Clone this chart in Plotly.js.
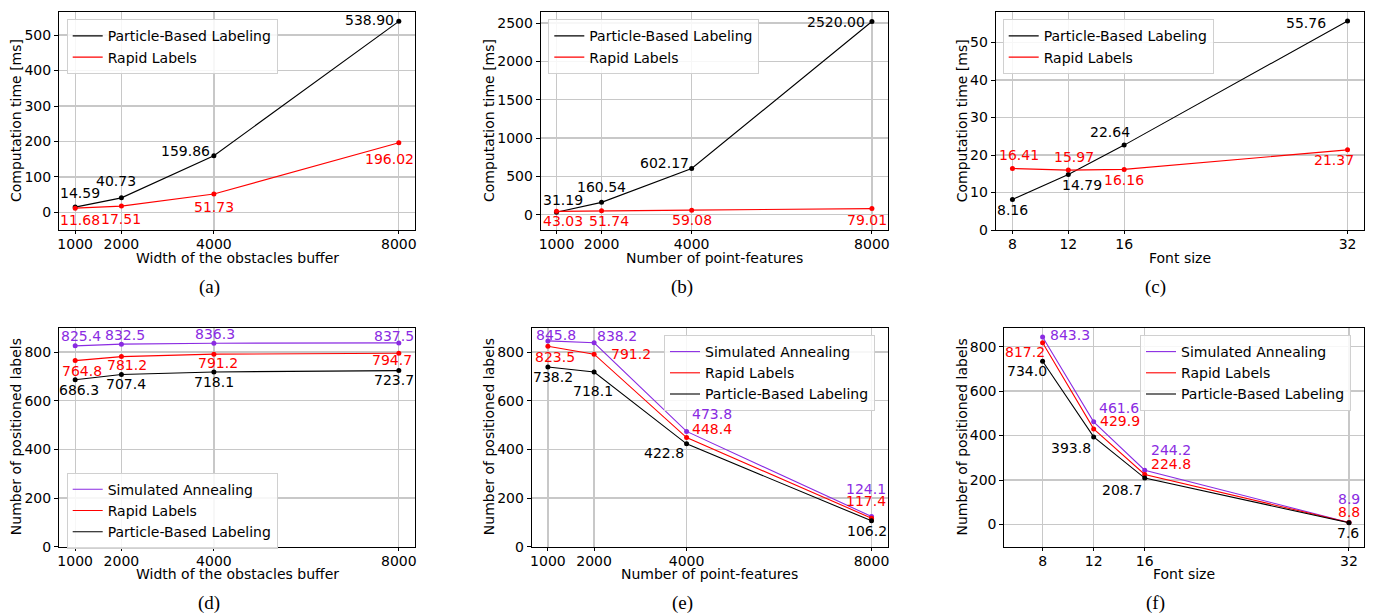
<!DOCTYPE html>
<html>
<head>
<meta charset="utf-8">
<script src="https://cdn.plot.ly/plotly-3.0.1.min.js"></script>
<style>html,body{margin:0;padding:0;background:#fff;}#chart{width:1375px;height:614px;}</style>
</head>
<body>
<div id="chart"></div>
<script>
// ---------------- DATA ----------------
const bufferWidth = [1000, 2000, 4000, 8000];
const pointFeatures = [1000, 2000, 4000, 8000];
const fontSizes = [8, 12, 16, 32];

// (a) computation time vs. buffer width
const timeBufferPBL = [14.59, 40.73, 159.86, 538.90];
const timeBufferRL  = [11.68, 17.51, 51.73, 196.02];
// (b) computation time vs. number of point-features
const timeFeaturesPBL = [31.19, 160.54, 602.17, 2520.00];
const timeFeaturesRL  = [43.03, 51.74, 59.08, 79.01];
// (c) computation time vs. font size
const timeFontPBL = [8.16, 14.79, 22.64, 55.76];
const timeFontRL  = [16.41, 15.97, 16.16, 21.37];
// (d) positioned labels vs. buffer width
const posBufferSA  = [825.4, 832.5, 836.3, 837.5];
const posBufferRL  = [764.8, 781.2, 791.2, 794.7];
const posBufferPBL = [686.3, 707.4, 718.1, 723.7];
// (e) positioned labels vs. number of point-features
const posFeaturesSA  = [845.8, 838.2, 473.8, 124.1];
const posFeaturesRL  = [823.5, 791.2, 448.4, 117.4];
const posFeaturesPBL = [738.2, 718.1, 422.8, 106.2];
// (f) positioned labels vs. font size
const posFontSA  = [843.3, 461.6, 244.2, 8.9];
const posFontRL  = [817.2, 429.9, 224.8, 8.8];
const posFontPBL = [734.0, 393.8, 208.7, 7.6];

const nameSA = 'Simulated Annealing';
const nameRL = 'Rapid Labels';
const namePBL = 'Particle-Based Labeling';
const captions = ['(a)', '(b)', '(c)', '(d)', '(e)', '(f)'];
const xTitles = ['Width of the obstacles buffer', 'Number of point-features', 'Font size',
                 'Width of the obstacles buffer', 'Number of point-features', 'Font size'];
const yTitles = ['Computation time [ms]', 'Computation time [ms]', 'Computation time [ms]',
                 'Number of positioned labels', 'Number of positioned labels', 'Number of positioned labels'];

// ---------------- STYLE ----------------
const FONT = 'DejaVu Sans, sans-serif';
const C_PBL = '#000000', C_RL = '#ff0000', C_SA = '#8A2BE2';

// label offsets [dx, dy] in px (screen, y down) relative to each point
const OFF = {
  aPBL: [[5,-14],[-5,-17],[-28,-5],[-29,-1]],
  aRL:  [[5,12],[0,13],[0,13],[-9,16]],
  bPBL: [[7,-12],[0,-15],[-27,-6],[-36,0]],
  bRL:  [[7,10],[7,10],[0,10],[-5,11]],
  cPBL: [[0,11],[14,10],[-14,-13],[-42,2]],
  cRL:  [[7,-13],[6,-13],[0,11],[-14,10]],
  dSA:  [[6,-10],[4,-9],[1,-9],[-5,-7]],
  dRL:  [[7,10],[6,8],[4,9],[-7,7]],
  dPBL: [[4,10],[5,9],[0,10],[-5,9]],
  eSA:  [[8,-6],[23,-7],[25,-17],[-6,-28]],
  eRL:  [[7,11],[37,0],[25,-9],[-6,-17]],
  ePBL: [[5,10],[-1,19],[-23,9],[-5,10]],
  fSA:  [[27,-2],[25,-14],[26,-20],[0,-23]],
  fRL:  [[-18,9],[26,-8],[26,-10],[0,-11]],
  fPBL: [[-16,10],[-23,11],[-23,12],[-1,10]]
};

const W = 1375, H = 614;
// plot areas in px [left, right, top, bottom]
const boxes = [
  [59, 415, 12, 230], [540.7, 887.7, 12, 230], [995.7, 1364.3, 12, 230],
  [59, 415, 327.7, 546.7], [531.7, 887.7, 327.7, 546.7], [1004.3, 1364.3, 327.7, 546.7]
];
const xRanges = [[650, 8350], [650, 8350], [6.8, 33.2], [650, 8350], [650, 8350], [5, 33.2]];
const yRanges = [[-50, 565.3], [-200, 2644.4], [0, 58.14], [0, 900], [0, 900], [-100, 885.1]];
const yDtick = [100, 500, 10, 200, 200, 200];
const legendPos = [[66.7, 19.3], [548.3, 19.3], [1002.7, 19.3], [66.7, 472.7], [664, 335], [1140, 335]];
const captionPos = [[209, 287], [682, 287], [1155, 287], [209, 603], [682, 603], [1155, 603]];
const yTitleX = [16, 489, 962.3, 16, 489, 962.3];
const xTitleY = [257.7, 257.7, 257.7, 574, 574, 574];

// ---------------- BUILD ----------------
const panels = [
  {x: bufferWidth, series: [[namePBL, timeBufferPBL, C_PBL, OFF.aPBL], [nameRL, timeBufferRL, C_RL, OFF.aRL]], dec: 2},
  {x: pointFeatures, series: [[namePBL, timeFeaturesPBL, C_PBL, OFF.bPBL], [nameRL, timeFeaturesRL, C_RL, OFF.bRL]], dec: 2},
  {x: fontSizes, series: [[namePBL, timeFontPBL, C_PBL, OFF.cPBL], [nameRL, timeFontRL, C_RL, OFF.cRL]], dec: 2},
  {x: bufferWidth, series: [[nameSA, posBufferSA, C_SA, OFF.dSA], [nameRL, posBufferRL, C_RL, OFF.dRL], [namePBL, posBufferPBL, C_PBL, OFF.dPBL]], dec: 1},
  {x: pointFeatures, series: [[nameSA, posFeaturesSA, C_SA, OFF.eSA], [nameRL, posFeaturesRL, C_RL, OFF.eRL], [namePBL, posFeaturesPBL, C_PBL, OFF.ePBL]], dec: 1},
  {x: fontSizes, series: [[nameSA, posFontSA, C_SA, OFF.fSA], [nameRL, posFontRL, C_RL, OFF.fRL], [namePBL, posFontPBL, C_PBL, OFF.fPBL]], dec: 1}
];

const traces = [];
const annotations = [];
const layout = {
  width: W, height: H,
  margin: {l: 0, r: 0, t: 0, b: 0},
  paper_bgcolor: '#fff', plot_bgcolor: '#fff',
  font: {family: FONT, size: 14, color: '#000'},
  showlegend: true,
  annotations: annotations
};

panels.forEach((p, i) => {
  const n = i + 1;
  const xa = n === 1 ? 'x' : 'x' + n;
  const ya = n === 1 ? 'y' : 'y' + n;
  const lg = n === 1 ? 'legend' : 'legend' + n;
  const b = boxes[i];
  layout[n === 1 ? 'xaxis' : 'xaxis' + n] = {
    domain: [b[0] / W, b[1] / W], anchor: ya, range: xRanges[i],
    tickmode: 'array', tickvals: p.x, ticktext: p.x.map(String),
    showgrid: true, gridcolor: '#c8c8c8', gridwidth: 1.3,
    showline: true, linecolor: '#000', linewidth: 1, mirror: true,
    ticks: 'outside', ticklen: 3, tickcolor: '#000', zeroline: false,
    ticklabelstandoff: -2,
    tickfont: {size: 14, family: FONT, color: '#000'}
  };
  layout[n === 1 ? 'yaxis' : 'yaxis' + n] = {
    domain: [1 - b[3] / H, 1 - b[2] / H], anchor: xa, range: yRanges[i],
    dtick: yDtick[i], tick0: 0,
    showgrid: true, gridcolor: '#c8c8c8', gridwidth: 1.3,
    showline: true, linecolor: '#000', linewidth: 1, mirror: true,
    ticks: 'outside', ticklen: 4, tickcolor: '#000', zeroline: false,
    tickfont: {size: 14, family: FONT, color: '#000'}
  };
  // axis titles (placed precisely)
  annotations.push({
    x: ((b[0] + b[1]) / 2) / W, y: 1 - xTitleY[i] / H, xref: 'paper', yref: 'paper',
    text: xTitles[i], showarrow: false, xanchor: 'center', yanchor: 'middle',
    font: {size: 14, family: FONT, color: '#000'}
  });
  annotations.push({
    x: yTitleX[i] / W, y: 1 - ((b[2] + b[3]) / 2) / H, xref: 'paper', yref: 'paper',
    text: yTitles[i], textangle: -90, showarrow: false, xanchor: 'center', yanchor: 'middle',
    font: {size: 14, family: FONT, color: '#000'}
  });
  const lp = legendPos[i];
  layout[lg] = {
    x: lp[0] / W, y: 1 - lp[1] / H, xanchor: 'left', yanchor: 'top', xref: 'paper', yref: 'paper',
    bgcolor: 'rgba(255,255,255,0.85)', bordercolor: '#d0d0d0', borderwidth: 1,
    font: {size: 14, family: FONT, color: '#000'}, traceorder: 'normal', tracegroupgap: 0
  };
  p.series.forEach(s => {
    const [name, ys, color, offs] = s;
    // line (shown in legend)
    traces.push({
      x: p.x, y: ys, name: name, mode: 'lines', xaxis: xa, yaxis: ya, legend: lg,
      line: {color: color, width: 1.1}, hoverinfo: 'x+y+name'
    });
    // point markers
    traces.push({
      x: p.x, y: ys, name: name, mode: 'markers', xaxis: xa, yaxis: ya, showlegend: false,
      marker: {color: color, size: 5}, hoverinfo: 'x+y+name'
    });
    ys.forEach((v, k) => {
      annotations.push({
        x: p.x[k], y: v, xref: xa, yref: ya, text: v.toFixed(p.dec), showarrow: false,
        xanchor: 'center', yanchor: 'middle', xshift: offs[k][0], yshift: -offs[k][1],
        font: {size: 14, family: FONT, color: color}
      });
    });
  });
  const cp = captionPos[i];
  annotations.push({
    x: cp[0] / W, y: 1 - cp[1] / H, xref: 'paper', yref: 'paper', text: captions[i],
    showarrow: false, xanchor: 'center', yanchor: 'middle',
    font: {size: 19, family: 'Liberation Serif, Times New Roman, serif', color: '#000'}
  });
});

Plotly.newPlot('chart', traces, layout, {staticPlot: true, displayModeBar: false});
</script>
</body>
</html>
